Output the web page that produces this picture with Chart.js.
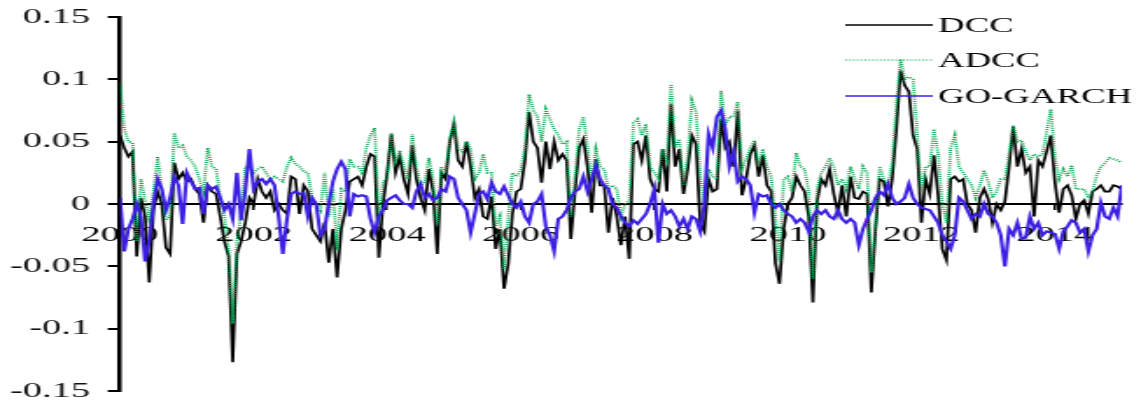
<!DOCTYPE html>
<html>
<head>
<meta charset="utf-8">
<title>DCC, ADCC and GO-GARCH dynamic correlations</title>
<script src="https://cdn.jsdelivr.net/npm/chart.js@4.4.1/dist/chart.umd.min.js"></script>
<style>
  html, body { margin: 0; padding: 0; background: #fff; overflow: hidden; }
  /* the chart is laid out narrow and widened horizontally, like the wide-set original figure */
  #wrap { width: 656px; height: 403px; transform: scaleX(1.75); transform-origin: 0 0; }
  canvas { display: block; }
</style>
</head>
<body>
<div id="wrap"><canvas id="chart" width="656" height="403"></canvas></div>
<script>
// Sampling of the series: 16 observations per year, starting January 2000
const startYear = 2000;
const pointsPerYear = 16;

// x-axis labels (every second year) and y-axis labels
const yearTicks = [2000, 2002, 2004, 2006, 2008, 2010, 2012, 2014];
const yTickValues = [-0.15, -0.1, -0.05, 0, 0.05, 0.1, 0.15];
const yTickLabels = ['-0.15', '-0.1', '-0.05', '0', '0.05', '0.1', '0.15'];

// DCC correlation (one row = half a year)
const dcc = [
  0.055, 0.045, 0.038, 0.042, -0.042, 0.005, -0.010, -0.063,
  -0.005, 0.010, 0.000, -0.035, -0.040, 0.033, 0.020, 0.025,
  0.018, 0.020, 0.012, 0.008, -0.015, 0.015, 0.010, 0.008,
  -0.010, -0.030, -0.042, -0.127, -0.040, -0.030, -0.015, 0.005,
  0.000, 0.020, 0.010, 0.005, 0.010, -0.005, 0.000, -0.005,
  -0.008, 0.022, 0.020, -0.008, 0.015, 0.010, -0.020, -0.025,
  -0.030, -0.015, -0.047, -0.020, -0.059, -0.020, -0.005, 0.018,
  0.020, 0.022, 0.015, 0.030, 0.040, 0.038, -0.043, 0.000,
  0.025, 0.056, 0.025, 0.038, 0.020, 0.008, 0.047, 0.020,
  0.005, -0.005, 0.028, 0.010, -0.040, 0.025, 0.020, 0.050,
  0.064, 0.035, 0.030, 0.050, 0.030, 0.005, 0.012, -0.010,
  -0.012, 0.006, -0.036, -0.020, -0.068, -0.048, -0.008, 0.010,
  0.012, 0.035, 0.074, 0.050, 0.045, 0.017, 0.050, 0.028,
  0.050, 0.035, 0.040, 0.035, -0.028, 0.010, 0.045, 0.052,
  0.030, -0.007, 0.036, 0.015, 0.015, -0.023, 0.005, -0.010,
  -0.033, -0.010, -0.044, 0.048, 0.050, 0.035, 0.055, 0.020,
  0.012, 0.010, 0.044, 0.010, 0.080, 0.030, 0.044, 0.008,
  0.028, 0.055, 0.048, -0.015, -0.022, 0.020, 0.010, 0.012,
  0.068, 0.045, 0.050, 0.030, 0.075, 0.007, 0.020, 0.040,
  0.047, 0.022, 0.039, 0.015, 0.010, -0.047, -0.064, -0.020,
  0.000, 0.005, 0.022, 0.015, 0.010, -0.010, -0.079, 0.002,
  0.020, 0.015, 0.028, 0.008, -0.007, 0.015, -0.010, 0.022,
  0.005, 0.004, 0.010, 0.008, -0.071, -0.020, 0.020, 0.018,
  -0.002, 0.020, 0.060, 0.107, 0.095, 0.090, 0.055, 0.044,
  -0.015, 0.020, 0.008, 0.039, 0.007, -0.036, -0.045, 0.020,
  0.022, 0.018, 0.020, 0.000, -0.005, -0.023, 0.005, 0.012,
  0.004, -0.015, 0.000, -0.005, 0.002, 0.030, 0.062, 0.030,
  0.044, 0.025, 0.030, -0.010, 0.035, 0.030, 0.042, 0.055,
  0.017, -0.007, 0.012, 0.015, 0.007, -0.012, 0.000, 0.003,
  -0.008, 0.010, 0.012, 0.015, 0.010, 0.010, 0.015, 0.014,
  0.012
];

// ADCC correlation
const adcc = [
  0.097, 0.060, 0.050, 0.049, -0.030, 0.020, 0.003, -0.012,
  0.010, 0.038, 0.010, -0.013, -0.010, 0.057, 0.045, 0.047,
  0.038, 0.035, 0.030, 0.020, 0.010, 0.045, 0.030, 0.028,
  0.005, -0.010, -0.035, -0.096, -0.030, -0.008, 0.030, 0.030,
  0.025, 0.028, 0.030, 0.025, 0.020, 0.022, 0.020, 0.018,
  0.030, 0.037, 0.032, 0.030, 0.026, 0.025, 0.005, 0.000,
  -0.005, 0.025, -0.010, 0.012, -0.037, 0.012, 0.010, 0.036,
  0.030, 0.030, 0.025, 0.045, 0.055, 0.061, -0.015, 0.018,
  0.020, 0.057, 0.034, 0.043, 0.030, 0.020, 0.056, 0.030,
  0.015, 0.018, 0.037, 0.020, -0.017, 0.030, 0.025, 0.052,
  0.066, 0.045, 0.042, 0.050, 0.044, 0.020, 0.025, 0.040,
  0.025, 0.025, -0.018, -0.010, -0.052, -0.010, 0.025, 0.022,
  0.027, 0.045, 0.088, 0.075, 0.070, 0.050, 0.076, 0.068,
  0.060, 0.055, 0.048, 0.050, -0.010, 0.022, 0.060, 0.070,
  0.045, 0.018, 0.044, 0.030, 0.028, 0.012, 0.015, 0.012,
  -0.010, 0.000, 0.003, 0.065, 0.068, 0.055, 0.064, 0.030,
  0.025, 0.020, 0.044, 0.035, 0.096, 0.045, 0.052, 0.015,
  0.038, 0.083, 0.074, 0.023, 0.000, 0.028, 0.022, 0.020,
  0.091, 0.063, 0.070, 0.070, 0.082, 0.028, 0.036, 0.045,
  0.051, 0.030, 0.044, 0.030, 0.022, -0.010, -0.046, 0.020,
  0.022, 0.010, 0.041, 0.030, 0.028, 0.010, -0.060, 0.012,
  0.025, 0.030, 0.037, 0.030, 0.015, 0.020, 0.012, 0.030,
  0.020, 0.012, 0.030, 0.025, -0.055, -0.015, 0.030, 0.020,
  0.015, 0.033, 0.080, 0.116, 0.100, 0.102, 0.100, 0.055,
  0.010, 0.030, 0.030, 0.060, 0.040, 0.000, -0.015, 0.045,
  0.055, 0.030, 0.025, 0.020, 0.015, 0.005, 0.015, 0.027,
  0.018, 0.005, 0.010, 0.020, 0.020, 0.040, 0.063, 0.050,
  0.051, 0.042, 0.035, 0.040, 0.038, 0.040, 0.058, 0.076,
  0.037, 0.020, 0.028, 0.022, 0.031, 0.012, 0.012, 0.012,
  0.005, 0.010, 0.023, 0.030, 0.033, 0.037, 0.036, 0.035,
  0.033
];

// GO-GARCH correlation
const goGarch = [
  0.005, -0.038, -0.020, -0.012, 0.000, -0.010, -0.046, -0.030,
  0.000, 0.020, 0.012, -0.005, 0.005, 0.022, 0.015, -0.016,
  0.025, 0.018, 0.012, 0.013, -0.008, 0.015, 0.012, 0.014,
  0.005, -0.005, 0.000, -0.012, 0.025, -0.013, 0.010, 0.044,
  0.012, 0.018, 0.020, 0.016, 0.020, 0.015, -0.010, -0.040,
  -0.012, 0.008, 0.010, 0.008, 0.009, -0.010, 0.005, 0.000,
  -0.025, -0.020, 0.000, 0.018, 0.028, 0.034, 0.028, -0.010,
  0.008, 0.006, 0.007, 0.006, -0.012, -0.023, -0.010, -0.005,
  0.003, 0.005, 0.007, 0.003, 0.000, 0.000, -0.003, 0.010,
  0.016, 0.005, 0.008, 0.003, 0.005, 0.012, 0.010, 0.022,
  0.020, 0.005, 0.000, -0.005, -0.023, -0.008, 0.008, 0.010,
  0.004, 0.017, 0.010, 0.008, 0.014, 0.007, 0.000, -0.003,
  0.002, -0.010, -0.015, 0.000, 0.002, 0.008, -0.018, -0.025,
  -0.038, -0.012, -0.010, -0.005, 0.005, 0.010, 0.012, 0.022,
  0.010, 0.020, 0.031, 0.020, 0.015, 0.012, 0.000, -0.003,
  -0.010, -0.015, -0.018, -0.013, -0.016, -0.012, -0.008, 0.000,
  0.012, -0.031, 0.000, -0.008, -0.005, -0.010, -0.018, -0.012,
  -0.020, -0.010, -0.012, -0.022, 0.000, 0.056, 0.045, 0.070,
  0.075, 0.060, 0.030, 0.042, 0.018, 0.022, 0.020, 0.015,
  -0.007, 0.008, 0.006, 0.007, 0.000, -0.003, 0.000, -0.005,
  -0.008, -0.010, -0.015, -0.012, -0.015, -0.022, -0.010, -0.005,
  -0.008, -0.005, -0.010, -0.012, -0.005, -0.012, -0.015, -0.012,
  -0.015, -0.033, -0.020, -0.012, -0.005, 0.005, 0.010, 0.007,
  0.016, 0.005, 0.000, 0.002, 0.005, 0.016, 0.005, 0.000,
  -0.003, -0.004, -0.005, -0.010, -0.015, -0.025, -0.030, -0.036,
  -0.025, 0.005, 0.002, -0.005, -0.012, -0.008, -0.010, 0.000,
  -0.008, -0.010, -0.015, -0.025, -0.050, -0.020, -0.025, -0.015,
  -0.028, -0.027, -0.010, -0.020, -0.015, -0.025, -0.022, -0.023,
  -0.024, -0.036, -0.022, -0.018, -0.013, -0.015, -0.023, -0.020,
  -0.038, -0.025, -0.020, 0.001, -0.010, -0.012, -0.003, -0.010,
  0.015
];

// pair each observation with its date (fractional year)
const toPoints = values => values.map((v, i) => ({ x: startYear + i / pointsPerYear, y: v }));

const serifFont = '"Liberation Serif", "Times New Roman", serif';

// series key, drawn inside the plot at the upper right
const keyRows = [25, 60, 96];
const seriesKey = {
  id: 'seriesKey',
  afterDatasetsDraw(chart) {
    const ctx = chart.ctx;
    ctx.save();
    ctx.font = '21px ' + serifFont;
    ctx.textBaseline = 'middle';
    ctx.textAlign = 'left';
    chart.data.datasets.forEach((ds, i) => {
      const y = keyRows[i];
      ctx.beginPath();
      ctx.strokeStyle = ds.borderColor;
      ctx.lineWidth = ds.keyWidth;
      ctx.setLineDash(ds.borderDash || []);
      ctx.moveTo(483, y);
      ctx.lineTo(533, y);
      ctx.stroke();
      ctx.setLineDash([]);
      ctx.fillStyle = '#000';
      ctx.fillText(ds.label, 536, y + 1);
    });
    ctx.restore();
  }
};

new Chart(document.getElementById('chart'), {
  type: 'line',
  data: {
    datasets: [
      { label: 'DCC', data: toPoints(dcc), borderColor: '#000000', borderWidth: 1.7, keyWidth: 1.3, order: 3 },
      { label: 'ADCC', data: toPoints(adcc), borderColor: '#00a94f', borderWidth: 1.8, keyWidth: 1.2, borderDash: [1, 1.2], order: 2 },
      { label: 'GO-GARCH', data: toPoints(goGarch), borderColor: '#3b1fe2', borderWidth: 2.1, keyWidth: 1.6, order: 1 }
    ]
  },
  options: {
    responsive: false,
    animation: false,
    devicePixelRatio: 1,
    elements: {
      point: { radius: 0 },
      line: { tension: 0, borderCapStyle: 'butt', borderJoinStyle: 'miter' }
    },
    layout: { padding: { left: 0, right: 15, top: 17, bottom: 12 } },
    plugins: { legend: { display: false }, tooltip: { enabled: false } },
    scales: {
      x: {
        type: 'linear',
        position: { y: 0 },
        min: 2000,
        max: 2015,
        afterBuildTicks: scale => { scale.ticks = yearTicks.map(v => ({ value: v })); },
        ticks: {
          font: { family: serifFont, size: 22 },
          color: '#000',
          padding: 13,
          maxRotation: 0,
          autoSkip: false,
          callback: v => String(v)
        },
        grid: { drawOnChartArea: false, drawTicks: true, tickLength: 5, color: '#000', lineWidth: 1.5 },
        border: { color: '#000', width: 2 }
      },
      y: {
        type: 'linear',
        min: -0.15,
        max: 0.15,
        afterBuildTicks: scale => { scale.ticks = yTickValues.map(v => ({ value: v })); },
        afterFit: scale => { scale.width = 68.6; },
        ticks: {
          font: { family: serifFont, size: 22, lineHeight: 0.1 },
          color: '#111',
          padding: 10,
          callback: (v, i) => yTickLabels[i]
        },
        grid: { drawOnChartArea: false, drawTicks: true, tickLength: 7, color: '#000', lineWidth: 2 },
        border: { color: '#000', width: 2.5 }
      }
    }
  },
  plugins: [seriesKey]
});
</script>
</body>
</html>
